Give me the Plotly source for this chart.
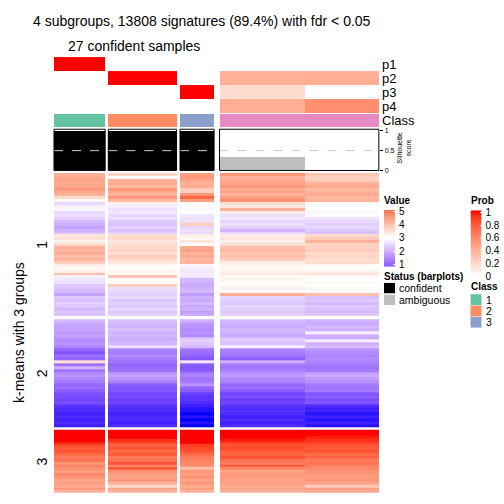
import numpy as np
import plotly.graph_objects as go

# ---------------- data ----------------
BLOCK_NCOL = [9, 12, 6, 15, 13]          # g1, g2, g3, g4 (part a), g4 (part b)
CLASS = [1, 2, 3, 4, 4]
P1 = [1.0, 0.0, 0.0, 0.0, 0.0]
P2 = [0.0, 1.0, 0.0, 0.40, 0.42]
P3 = [0.0, 0.0, 1.0, 0.18, 0.0]
P4 = [0.0, 0.0, 0.0, 0.42, 0.58]
SILHOUETTE = [1.0, 1.0, 1.0, 0.33, 0.0]
CONFIDENT = [True, True, True, False, False]
SLICE_LABELS = ["1", "2", "3"]
CLASS_LEGEND = ["1", "2", "3"]
VALUE_TICKS = [1, 2, 3, 4, 5]
PROB_TICKS = [0, 0.2, 0.4, 0.6, 0.8, 1]

S1_G1 = [4.2,4.3,4.4,4.3,4.4,4.6,4.3,4.2,3.6,3.1, 2.5,2.8,2.9,2.5,2.6,2.4,2.1,2.0,1.8,2.0,
         2.2,3.4,3.5,3.2,3.6,4.2,4.1,4.3,4.0,4.2, 3.8,3.3,3.1,3.2,4.0,2.8,2.7,2.6,2.3,2.2,
         2.1,1.8,2.3,2.2,2.4,2.3,2.1,2.3,2.2]
S1_G2 = [3.7,3.0,4.2,4.3,4.1,4.6,4.3,4.2,4.6,4.1, 3.2,2.8,2.6,2.7,2.5,2.6,2.3,2.2,2.4,2.2,
         2.4,3.5,3.6,3.4,3.5,3.6,3.7,3.5,3.8,3.6, 3.4,3.1,3.0,3.2,3.1,3.9,3.0,3.1,3.8,2.6,
         2.5,2.4,2.5,2.3,2.4,2.3,2.5,2.3,2.4]
S1_G3 = [4.5,4.6,4.4,4.2,4.3,3.8,3.7,4.6,5.3,4.5, 3.1,3.0,2.9,3.0,2.7,2.6,2.6,3.8,2.5,2.6,
         2.5,3.3,3.1,3.4,3.0,4.3,4.4,4.2,4.3,4.1, 4.2,2.9,2.8,2.7,2.8,2.7,2.1,2.0,1.9,2.0,
         2.1,1.7,2.0,1.9,2.1,1.9,2.0,1.7,1.9]
S1_G4A = [4.6,4.2,4.3,4.4,4.6,4.3,4.4,4.2,4.5,4.7, 3.5,3.4,4.2,3.3,2.6,2.7,2.5,2.6,2.4,2.0,
          2.5,3.3,3.4,3.2,3.5,4.0,4.1,3.9,4.0,3.8, 3.3,3.2,3.1,3.2,3.4,3.1,3.2,3.0,3.1,3.2,
          3.0,4.3,2.5,2.4,2.3,2.5,2.4,2.3,2.4]
S1_G4B = [3.9,3.7,3.8,4.2,4.3,4.1,4.2,4.3,4.1,4.2, 3.1,3.0,3.0,2.9,3.0,2.6,2.5,2.4,2.5,2.3,
          2.2,3.6,3.8,4.2,3.7,3.7,3.8,3.6,3.7,3.5, 3.6,3.1,3.0,3.2,3.5,3.1,3.0,3.1,3.0,3.1,
          3.0,4.0,2.2,2.3,2.1,2.3,2.2,2.1,2.3]

S2_G1 = [2.1,1.9,1.8,1.8,1.7,1.8,1.6,1.5,1.6,1.4, 1.0,0.8,1.1,1.0,3.5,1.2,2.0,1.2,1.5,1.6,
         1.4,1.3,1.0,1.1,0.9,0.7,0.7,0.6,0.7,0.4, 0.3,0.3,0.2,0.3,0.2,0.3,0.2]
S2_G2 = [2.2,2.1,2.0,2.2,2.0,2.1,1.9,2.0,2.1,2.6, 1.4,1.3,1.5,1.3,1.2,1.0,1.1,1.2,1.7,1.8,
         1.6,1.4,0.9,0.8,0.8,0.6,0.7,0.5,0.6,0.4, 0.3,0.3,0.2,0.3,0.3,0.2,0.3]
S2_G3 = [2.0,1.7,1.6,1.5,1.6,1.5,2.3,2.4,2.3,2.1, 1.2,1.1,1.0,0.8,2.7,0.9,0.8,0.9,1.3,1.4,
         1.2,1.3,1.6,1.0,0.9,0.5,0.4,0.4,0.3,0.2, 0.1,0.1,0.0,0.1,0.0,0.1,0.0]
S2_G4A = [2.1,2.0,1.9,2.1,2.0,1.9,2.3,2.3,2.2,2.8, 1.4,1.3,1.2,0.9,2.0,1.3,1.2,1.4,1.6,1.7,
          1.5,1.4,1.0,1.1,0.9,0.6,0.7,0.5,0.6,0.4, 0.3,0.4,0.3,0.2,0.3,0.2,0.3]
S2_G4B = [2.0,1.9,2.1,2.0,2.8,2.0,1.9,2.8,2.0,2.1, 1.6,1.5,1.4,1.5,1.4,1.3,1.2,1.3,1.8,1.9,
          1.7,1.6,1.3,1.2,1.3,0.8,0.9,0.7,0.8,0.3, 0.2,0.2,0.1,0.2,0.1,0.2,0.1]

S3_G1 = [6.0,6.0,6.0,6.0,5.9,5.6,5.4,5.5,5.2,5.0, 5.1,4.6,4.9,4.7,4.5,4.8,4.6,4.4,4.5,4.3, 4.6,4.2]
S3_G2 = [6.0,6.0,6.0,5.8,5.6,5.3,5.5,5.2,5.4,5.0, 5.1,5.5,4.8,5.4,4.7,4.5,4.4,4.6,4.2,3.6, 4.4,4.2]
S3_G3 = [6.0,6.0,6.0,6.0,6.0,5.7,5.6,5.5,5.2,5.0, 4.9,4.8,4.7,4.0,4.6,4.5,4.7,4.4,4.6,4.3, 4.5,4.2]
S3_G4A = [6.0,6.0,6.0,5.9,5.7,5.5,5.6,5.4,5.3,5.5, 5.1,5.0,5.4,4.8,4.4,4.6,4.5,4.4,4.5,4.3, 4.4,4.2]
S3_G4B = [6.0,6.0,5.9,5.8,5.7,5.5,5.4,5.5,5.2,5.3, 5.0,5.1,4.9,4.8,4.7,4.6,4.5,4.6,4.4,3.8, 4.5,4.3]

SLICES = [
    [S1_G1, S1_G2, S1_G3, S1_G4A, S1_G4B],
    [S2_G1, S2_G2, S2_G3, S2_G4A, S2_G4B],
    [S3_G1, S3_G2, S3_G3, S3_G4A, S3_G4B],
]

# ---------------- styling / layout constants ----------------
W = H = 504
FONT = "Liberation Sans, Arial, sans-serif"
COLW = 5.69
X0 = 54.0
GAPS = [3.1, 3.4, 5.4, 0.0, 0.0]           # gap after each block
SLICE_Y = [(172.0, 318.0), (321.0, 431.0), (433.5, 498.0)]
PROW_Y = [(54.0, 68.3), (68.3, 82.5), (82.5, 96.8), (96.8, 111.0)]
CLASS_Y = (112.0, 125.5)
SIL_Y = (127.5, 169.5)
CLASS_COLORS = {1: "#66C2A5", 2: "#FC8D62", 3: "#8DA0CB", 4: "#E78AC3"}


def srgb_to_lab(hexc):
    c = np.array([int(hexc[i:i + 2], 16) / 255 for i in (1, 3, 5)])
    c = np.where(c <= 0.04045, c / 12.92, ((c + 0.055) / 1.055) ** 2.4)
    M = np.array([[0.4124, 0.3576, 0.1805], [0.2126, 0.7152, 0.0722], [0.0193, 0.1192, 0.9505]])
    xyz = M @ c / np.array([0.95047, 1.0, 1.08883])
    f = np.where(xyz > 0.008856, np.cbrt(xyz), 7.787 * xyz + 16 / 116)
    return np.array([116 * f[1] - 16, 500 * (f[0] - f[1]), 200 * (f[1] - f[2])])


def lab_to_rgbstr(lab):
    L, a, b = lab
    fy = (L + 16) / 116
    fx = fy + a / 500
    fz = fy - b / 200
    f = np.array([fx, fy, fz])
    xyz = np.where(f ** 3 > 0.008856, f ** 3, (f - 16 / 116) / 7.787) * np.array([0.95047, 1.0, 1.08883])
    Mi = np.array([[3.2406, -1.5372, -0.4986], [-0.9689, 1.8758, 0.0415], [0.0557, -0.2040, 1.0570]])
    rgb = np.clip(Mi @ xyz, 0, 1)
    rgb = np.where(rgb <= 0.0031308, 12.92 * rgb, 1.055 * rgb ** (1 / 2.4) - 0.055)
    rgb = np.clip(np.round(rgb * 255), 0, 255).astype(int)
    return "rgb(%d,%d,%d)" % tuple(rgb)


def lab_scale(colors, n=24):
    labs = [srgb_to_lab(c) for c in colors]
    stops = []
    segs = len(colors) - 1
    for s in range(segs):
        for k in range(n + 1):
            if s > 0 and k == 0:
                continue
            t = k / n
            pos = (s + t) / segs
            stops.append([pos, lab_to_rgbstr(labs[s] * (1 - t) + labs[s + 1] * t)])
    return stops


VALUE_CS = lab_scale(["#0000FF", "#FFFFFF", "#FF0000"])
PROB_CS = lab_scale(["#FFFFFF", "#FF0000"])
VMIN, VMAX = 0.0, 6.0

# x edges of the blocks (with gap cells between groups)
xe = [X0]
block_cells = []       # index of the cell for each block
bx = []                # (left, right) of each block
x = X0
for i, n in enumerate(BLOCK_NCOL):
    left = x
    x += n * COLW
    bx.append((left, x))
    block_cells.append(len(xe) - 1)
    xe.append(x)
    if GAPS[i] > 0:
        x += GAPS[i]
        xe.append(x)
ncell = len(xe) - 1


def row_cells(vals):
    r = [None] * ncell
    for b, v in enumerate(vals):
        r[block_cells[b]] = v
    return r


fig = go.Figure()

# main heatmap slices
for (top, bot), blocks in zip(SLICE_Y, SLICES):
    nr = len(blocks[0])
    ye = list(np.linspace(top, bot, nr + 1))
    z = [row_cells([blk[r] for blk in blocks]) for r in range(nr)]
    fig.add_trace(go.Heatmap(x=xe, y=ye, z=z, colorscale=VALUE_CS, zmin=VMIN, zmax=VMAX,
                             showscale=False, hoverinfo="skip", xaxis="x", yaxis="y"))

# probability annotation rows
for (top, bot), pv in zip(PROW_Y, [P1, P2, P3, P4]):
    fig.add_trace(go.Heatmap(x=xe, y=[top, bot], z=[row_cells(pv)], colorscale=PROB_CS,
                             zmin=0, zmax=1, showscale=False, hoverinfo="skip",
                             xaxis="x", yaxis="y"))

# class row
cls_ids = sorted(CLASS_COLORS)
cls_cs = []
for i, c in enumerate(cls_ids):
    cls_cs.append([i / len(cls_ids), CLASS_COLORS[c]])
    cls_cs.append([(i + 1) / len(cls_ids), CLASS_COLORS[c]])
fig.add_trace(go.Heatmap(x=xe, y=list(CLASS_Y), z=[row_cells(CLASS)], colorscale=cls_cs,
                         zmin=0.5, zmax=len(cls_ids) + 0.5, showscale=False, hoverinfo="skip",
                         xaxis="x", yaxis="y"))

# silhouette bars
fig.add_trace(go.Bar(
    x=[(l + r) / 2 for l, r in bx], y=SILHOUETTE, width=[r - l for l, r in bx],
    marker=dict(color=["#000000" if c else "#BEBEBE" for c in CONFIDENT], line=dict(width=0)),
    xaxis="x", yaxis="y2", hoverinfo="skip"))

shapes = []
groups = [(bx[0][0], bx[0][1]), (bx[1][0], bx[1][1]), (bx[2][0], bx[2][1]), (bx[3][0], bx[4][1])]
for l, r in groups:
    shapes.append(dict(type="line", xref="x", yref="y2", x0=l, x1=r, y0=0.5, y1=0.5,
                       line=dict(color="#CCCCCC", width=1, dash="dash"), layer="above"))
    shapes.append(dict(type="rect", xref="x", yref="y", x0=l, x1=r, y0=SIL_Y[0], y1=SIL_Y[1],
                       line=dict(color="black", width=1), fillcolor="rgba(0,0,0,0)", layer="above"))

# legend keys (status + class)
status_items = [("confident", "#000000"), ("ambiguous", "#BEBEBE")]
for i, (lab, col) in enumerate(status_items):
    y0 = 284 + i * 12
    shapes.append(dict(type="rect", xref="x", yref="y", x0=384, x1=395, y0=y0, y1=y0 + 10.5,
                       fillcolor=col, line=dict(width=0)))
for i, lab in enumerate(CLASS_LEGEND):
    y0 = 295.5 + i * 11.5
    shapes.append(dict(type="rect", xref="x", yref="y", x0=470.5, x1=481.5, y0=y0, y1=y0 + 11,
                       fillcolor=CLASS_COLORS[int(lab)], line=dict(width=0)))

# legend gradients
vr = (0.815, 5.11)
ve = np.linspace(vr[0], vr[1], 121)
fig.add_trace(go.Heatmap(x=[-0.5, 0.5], y=ve, z=[[(a + b) / 2] for a, b in zip(ve[:-1], ve[1:])],
                         colorscale=VALUE_CS, zmin=VMIN, zmax=VMAX, showscale=False,
                         hoverinfo="skip", xaxis="x3", yaxis="y3"))
pr = (-0.015, 1.031)
pe = np.linspace(pr[0], pr[1], 121)
fig.add_trace(go.Heatmap(x=[-0.5, 0.5], y=pe, z=[[(a + b) / 2] for a, b in zip(pe[:-1], pe[1:])],
                         colorscale=PROB_CS, zmin=0, zmax=1, showscale=False,
                         hoverinfo="skip", xaxis="x4", yaxis="y4"))

ann = []


def txt(x, y, s, size, xanchor="left", angle=0, bold=False, yanchor="middle"):
    ann.append(dict(x=x, y=y, xref="x", yref="y", text=("<b>%s</b>" % s) if bold else s,
                    showarrow=False, xanchor=xanchor, yanchor=yanchor, textangle=angle,
                    font=dict(size=size, color="black", family=FONT), borderpad=0))


txt(32, 17, "4 subgroups, 13808 signatures (89.4%) with fdr &lt; 0.05", 14)
txt((bx[0][0] + bx[2][1]) / 2, 43, "27 confident samples", 14, xanchor="center")
for (top, bot), lab in zip(PROW_Y, ["p1", "p2", "p3", "p4"]):
    txt(381, (top + bot) / 2, lab, 13)
txt(381, sum(CLASS_Y) / 2, "Class", 13)
txt(404, 147, "Silhouette<br>score", 7, xanchor="center", angle=-90)
txt(19, (SLICE_Y[0][0] + SLICE_Y[2][1]) / 2, "k-means with 3 groups", 14, xanchor="center", angle=-90)
for (top, bot), lab in zip(SLICE_Y, SLICE_LABELS):
    txt(42, (top + bot) / 2, lab, 14, xanchor="center", angle=-90)

txt(383, 200, "Value", 10, bold=True)
txt(383, 277, "Status (barplots)", 10, bold=True)
for i, (lab, col) in enumerate(status_items):
    txt(398, 289.5 + i * 12, lab, 10.5)
txt(470, 200, "Prob", 10, bold=True)
txt(470, 288, "Class", 10, bold=True)
for i, lab in enumerate(CLASS_LEGEND):
    txt(485, 301 + i * 11.5, lab, 10.5)

hidden = dict(visible=False, showgrid=False, zeroline=False, fixedrange=True)
fig.update_layout(
    width=W, height=H, margin=dict(l=0, r=0, t=0, b=0),
    paper_bgcolor="white", plot_bgcolor="rgba(0,0,0,0)", showlegend=False,
    font=dict(family=FONT, color="black"),
    xaxis=dict(domain=[0, 1], range=[0, W], **hidden),
    yaxis=dict(domain=[0, 1], range=[H, 0], **hidden),
    yaxis2=dict(domain=[1 - SIL_Y[1] / H, 1 - SIL_Y[0] / H], range=[-0.005, 1.045],
                anchor="free", position=bx[4][1] / W + 0.001, side="right",
                tickvals=[0, 0.5, 1], ticktext=["0", "0.5", "1"], ticks="outside", ticklen=3,
                tickcolor="black", tickfont=dict(size=7, family=FONT), showgrid=False,
                zeroline=False, showline=False, fixedrange=True),
    xaxis3=dict(domain=[384 / W, 395 / W], range=[-0.5, 0.5], anchor="y3", **hidden),
    yaxis3=dict(domain=[1 - 267.5 / H, 1 - 209.5 / H], range=list(vr), anchor="x3", side="right",
                tickvals=VALUE_TICKS, ticks="inside", ticklen=2, tickcolor="white",
                ticklabelstandoff=3, tickfont=dict(size=10, family=FONT),
                showgrid=False, zeroline=False, showline=False, fixedrange=True),
    xaxis4=dict(domain=[470.5 / W, 481.5 / W], range=[-0.5, 0.5], anchor="y4", **hidden),
    yaxis4=dict(domain=[1 - 278 / H, 1 - 210 / H], range=list(pr), anchor="x4", side="right",
                tickvals=PROB_TICKS, ticktext=["0", "0.2", "0.4", "0.6", "0.8", "1"],
                ticks="inside", ticklen=2, tickcolor="white",
                ticklabelstandoff=3, tickfont=dict(size=10, family=FONT),
                showgrid=False, zeroline=False, showline=False, fixedrange=True),
    shapes=shapes, annotations=ann, bargap=0,
)

fig.write_html(
    "out.html",
    config={"displayModeBar": False},
    post_script=(
        "document.documentElement.style.margin='0';document.body.style.margin='0';"
        "document.body.style.padding='0';"
        "var d=document.getElementById('{plot_id}');"
        "d.style.position='absolute';d.style.left='0px';d.style.top='0px';"
    ),
)
